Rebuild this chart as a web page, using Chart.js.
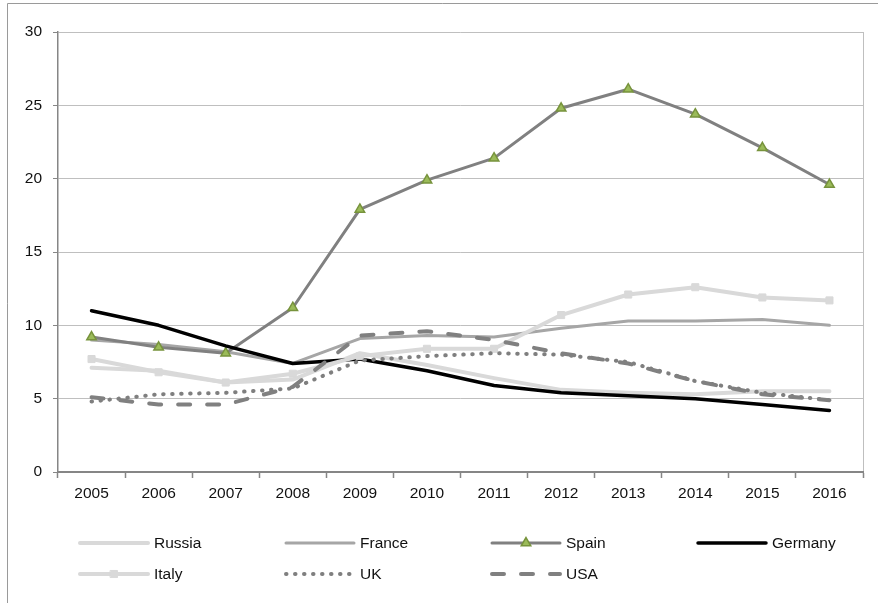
<!DOCTYPE html>
<html>
<head>
<meta charset="utf-8">
<script src="https://cdn.jsdelivr.net/npm/chart.js@4.4.1/dist/chart.umd.min.js"></script>
<style>
    html, body { margin: 0; padding: 0; background: #fff; }
    #wrap { width: 878px; height: 603px; position: relative; }
</style>
</head>
<body>
<div id="wrap"><canvas id="rateChart"></canvas></div>
<script>
// Years on the x axis and one array per country
const years = ['2005', '2006', '2007', '2008', '2009', '2010', '2011', '2012', '2013', '2014', '2015', '2016'];
const russia  = [7.1, 6.9, 6.1, 6.3, 8.1, 7.3, 6.4, 5.6, 5.4, 5.3, 5.5, 5.5];
const france  = [9.0, 8.7, 8.2, 7.4, 9.1, 9.3, 9.2, 9.8, 10.3, 10.3, 10.4, 10.0];
const spain   = [9.2, 8.5, 8.1, 11.2, 17.9, 19.9, 21.4, 24.8, 26.1, 24.4, 22.1, 19.6];
const germany = [11.0, 10.0, 8.6, 7.4, 7.7, 6.9, 5.9, 5.4, 5.2, 5.0, 4.6, 4.2];
const italy   = [7.7, 6.8, 6.1, 6.7, 7.9, 8.4, 8.4, 10.7, 12.1, 12.6, 11.9, 11.7];
const uk      = [4.8, 5.3, 5.4, 5.7, 7.6, 7.9, 8.1, 8.0, 7.5, 6.2, 5.4, 4.9];
const usa     = [5.1, 4.6, 4.6, 5.8, 9.3, 9.6, 9.0, 8.1, 7.4, 6.2, 5.3, 4.9];
const yTicks  = [0, 5, 10, 15, 20, 25, 30];

const FONT = "'Liberation Sans', Arial, sans-serif";

function series(label, data, style) {
    return Object.assign({
        label: label,
        data: data,
        fill: false,
        tension: 0,
        pointRadius: 0,
        pointHoverRadius: 0,
        borderCapStyle: 'round',
        borderJoinStyle: 'round'
    }, style);
}

const datasets = [
    series('Russia', russia, { borderColor: '#d9d9d9', borderWidth: 4 }),
    series('France', france, { borderColor: '#a6a6a6', borderWidth: 3 }),
    series('Spain', spain, {
        borderColor: '#808080', borderWidth: 3,
        pointStyle: 'triangle', pointRadius: 5.5,
        pointBackgroundColor: '#9bbb59', pointBorderColor: '#77933c', pointBorderWidth: 1.5
    }),
    series('Germany', germany, { borderColor: '#000000', borderWidth: 3.5 }),
    series('Italy', italy, {
        borderColor: '#d9d9d9', borderWidth: 4,
        pointStyle: 'rect', pointRadius: 5,
        pointBackgroundColor: '#d9d9d9', pointBorderColor: '#d9d9d9', pointBorderWidth: 1
    }),
    series('UK', uk, { borderColor: '#7f7f7f', borderWidth: 4, borderDash: [0.5, 8.5] }),
    series('USA', usa, { borderColor: '#808080', borderWidth: 4, borderDash: [12, 17] })
];
// later series sit on top of earlier ones
datasets.forEach((ds, i) => { ds.order = datasets.length - i; });

// frame around the whole figure and the right edge of the plot box
const framePlugin = {
    id: 'frame',
    beforeDraw(chart) {
        const ctx = chart.ctx;
        ctx.save();
        ctx.strokeStyle = '#9a9a9a';
        ctx.lineWidth = 1;
        ctx.beginPath();
        ctx.moveTo(7.5, chart.height);
        ctx.lineTo(7.5, 3.5);
        ctx.lineTo(chart.width, 3.5);
        ctx.stroke();
        const a = chart.chartArea;
        ctx.strokeStyle = '#bfbfbf';
        ctx.beginPath();
        ctx.moveTo(a.right + 0.5, a.top);
        ctx.lineTo(a.right + 0.5, a.bottom);
        ctx.stroke();
        ctx.restore();
    }
};

// four-column legend under the axis
const gridLegend = {
    id: 'gridLegend',
    afterDraw(chart) {
        const ctx = chart.ctx;
        const sample = 68;
        ctx.save();
        chart.data.datasets.forEach((ds, i) => {
            const col = i % 4, row = Math.floor(i / 4);
            const x = 80 + col * 206;
            const y = 543 + row * 31;
            ctx.strokeStyle = ds.borderColor;
            ctx.lineWidth = ds.borderWidth;
            ctx.lineCap = 'round';
            ctx.setLineDash(ds.borderDash || []);
            ctx.beginPath();
            ctx.moveTo(x, y);
            ctx.lineTo(x + sample, y);
            ctx.stroke();
            ctx.setLineDash([]);
            if (ds.pointRadius > 0) {
                ctx.fillStyle = ds.pointBackgroundColor;
                ctx.strokeStyle = ds.pointBorderColor;
                ctx.lineWidth = ds.pointBorderWidth;
                Chart.helpers.drawPoint(ctx, {
                    pointStyle: ds.pointStyle,
                    radius: ds.pointRadius,
                    borderWidth: ds.pointBorderWidth,
                    rotation: 0
                }, x + sample / 2, y);
            }
            ctx.fillStyle = '#111';
            ctx.font = '15.5px ' + FONT;
            ctx.textAlign = 'left';
            ctx.textBaseline = 'middle';
            ctx.fillText(ds.label, x + sample + 6, y + 1);
        });
        ctx.restore();
    }
};

const ctx = document.getElementById('rateChart').getContext('2d');
const chart = new Chart(ctx, {
    type: 'line',
    data: { labels: years, datasets: datasets },
    plugins: [framePlugin, gridLegend],
    options: {
        responsive: true,
        maintainAspectRatio: false,
        animation: false,
        layout: { padding: { left: 8, right: 15, top: 32, bottom: 91 } },
        plugins: {
            legend: { display: false },
            tooltip: { enabled: false }
        },
        scales: {
            x: {
                type: 'category',
                offset: true,
                grid: {
                    offset: true,
                    drawOnChartArea: false,
                    drawTicks: true,
                    tickLength: 6,
                    tickColor: '#868686',
                    tickWidth: 1.5
                },
                border: { color: '#868686', width: 2 },
                ticks: {
                    color: '#111',
                    font: { family: FONT, size: 15.5 },
                    padding: 6,
                    maxRotation: 0
                },
                afterFit(scale) { scale.height = 40; }
            },
            y: {
                min: 0,
                max: 30,
                afterBuildTicks(scale) { scale.ticks = yTicks.map(v => ({ value: v })); },
                grid: {
                    color: '#bfbfbf',
                    lineWidth: 1,
                    drawTicks: true,
                    tickLength: 5,
                    tickColor: '#868686'
                },
                border: { color: '#868686', width: 1.5 },
                ticks: {
                    color: '#111',
                    font: { family: FONT, size: 15.5 },
                    padding: 11
                },
                afterFit(scale) { scale.width = 50; }
            }
        }
    }
});
</script>
</body>
</html>
